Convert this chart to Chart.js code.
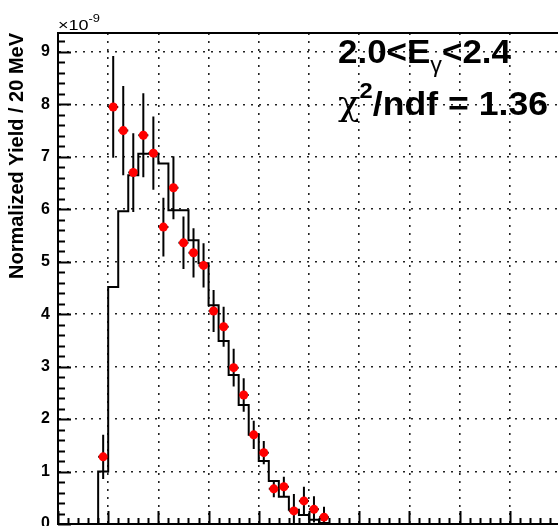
<!DOCTYPE html>
<html>
<head>
<meta charset="utf-8">
<script src="https://cdn.jsdelivr.net/npm/chart.js@4.4.1/dist/chart.umd.min.js"></script>
<style>
    html, body { margin: 0; padding: 0; background: #fff; overflow: hidden; }
    #wrap { position: absolute; left: 0; top: 0; width: 600px; height: 560px; }
</style>
</head>
<body>
<div id="wrap"><canvas id="yieldChart" width="600" height="560"></canvas></div>
<script>
// bin centres (MeV), one bin = 20 MeV
const binWidth = 20;
const binCenters = [90, 110, 130, 150, 170, 190, 210, 230, 250, 270, 290, 310,
                    330, 350, 370, 390, 410, 430, 450, 470, 490, 510, 530];
// data points (x 1e-9) and their errors
const dataYield = [1.28, 7.95, 7.50, 6.70, 7.41, 7.07, 5.66, 6.41, 5.36, 5.17, 4.93, 4.06,
                   3.76, 2.98, 2.46, 1.70, 1.36, 0.67, 0.71, 0.25, 0.44, 0.28, 0.13];
const dataErr = [0.42, 0.97, 0.85, 0.75, 0.80, 0.70, 0.56, 0.60, 0.50, 0.47, 0.42, 0.40,
                 0.38, 0.36, 0.32, 0.27, 0.22, 0.16, 0.19, 0.32, 0.27, 0.25, 0.20];
// simulation histogram, same bins
const mcYield = [1.00, 4.52, 5.96, 6.65, 7.06, 7.06, 6.87, 5.98, 5.98, 5.41, 4.97, 4.17,
                 3.49, 2.84, 2.27, 1.70, 1.20, 0.82, 0.52, 0.27, 0.17, 0.08, 0.02];
const yTicks = [0, 1, 2, 3, 4, 5, 6, 7, 8, 9];

const X_MAX = 1060;
const Y_MAX = 9.36;
const FONT = '"Liberation Sans", Arial, sans-serif';

// histogram as stepped line: left edge of each bin
const histPoints = [{ x: 0, y: 0 }];
binCenters.forEach(function(c, i) {
    histPoints.push({ x: c - binWidth / 2, y: mcYield[i] });
});
histPoints.push({ x: binCenters[binCenters.length - 1] + binWidth / 2, y: 0 });
histPoints.push({ x: X_MAX, y: 0 });

const dataPoints = binCenters.map(function(c, i) {
    return { x: c, y: dataYield[i] };
});

/**
 * error bars under the red markers
 */
const errorBars = {
    id: 'errorBars',
    beforeDatasetDraw(chart, args) {
        if (args.index !== 1) return;
        const ctx = chart.ctx;
        const x = chart.scales.x, y = chart.scales.y;
        ctx.save();
        ctx.strokeStyle = '#000';
        ctx.lineWidth = 2;
        binCenters.forEach(function(c, i) {
            const px = x.getPixelForValue(c);
            const py = y.getPixelForValue(dataYield[i]);
            ctx.beginPath();
            ctx.moveTo(px, y.getPixelForValue(dataYield[i] + dataErr[i]));
            ctx.lineTo(px, y.getPixelForValue(Math.max(0, dataYield[i] - dataErr[i])));
            ctx.moveTo(x.getPixelForValue(c - binWidth / 2), py);
            ctx.lineTo(x.getPixelForValue(c + binWidth / 2), py);
            ctx.stroke();
        });
        ctx.restore();
    }
};

// draws a run of text parts, squeezed/stretched to a given width
function drawRich(ctx, parts, x, baseline, width) {
    let total = 0;
    parts.forEach(function(p) {
        ctx.font = p.font;
        p.w = ctx.measureText(p.text).width;
        total += p.w;
    });
    ctx.save();
    ctx.translate(x, baseline);
    ctx.scale(width / total, 1);
    let cx = 0;
    parts.forEach(function(p) {
        ctx.font = p.font;
        ctx.fillText(p.text, cx, p.dy || 0);
        cx += p.w;
    });
    ctx.restore();
}

/**
 * frame, inward ticks and the labels inside the pad
 */
const frameAndText = {
    id: 'frameAndText',
    afterDraw(chart) {
        const ctx = chart.ctx;
        const area = chart.chartArea;
        const x = chart.scales.x, y = chart.scales.y;
        ctx.save();
        ctx.strokeStyle = '#000';
        ctx.lineWidth = 2;
        ctx.beginPath();
        ctx.moveTo(area.left, area.top);
        ctx.lineTo(area.right, area.top);
        // y ticks, pointing inside
        for (let v = 0; v <= Y_MAX + 1e-6; v += 0.2) {
            const major = Math.abs(v - Math.round(v)) < 1e-6;
            const py = Math.round(y.getPixelForValue(v)) + 0.5;
            ctx.moveTo(area.left, py);
            ctx.lineTo(area.left + (major ? 13 : 7), py);
        }
        // x ticks
        for (let v = 0; v <= X_MAX; v += binWidth) {
            const major = v % 100 === 0;
            const px = Math.round(x.getPixelForValue(v)) + 0.5;
            ctx.moveTo(px, area.bottom);
            ctx.lineTo(px, area.bottom - (major ? 13 : 6));
        }
        ctx.stroke();

        ctx.fillStyle = '#000';
        ctx.textBaseline = 'alphabetic';
        ctx.textAlign = 'left';
        drawRich(ctx, [
            { text: '\u00d710', font: '14px ' + FONT },
            { text: '-9', font: '10px ' + FONT, dy: -8 }
        ], 58, 30, 42);

        drawRich(ctx, [
            { text: '2.0<E', font: 'bold 33px ' + FONT },
            { text: '\u03b3', font: '22px ' + FONT, dy: 9 },
            { text: '<2.4', font: 'bold 33px ' + FONT }
        ], 338, 63, 173);

        drawRich(ctx, [
            { text: '\u03c7', font: '33px "DejaVu Serif", serif', dy: 0 },
            { text: '2', font: 'bold 22px ' + FONT, dy: -17 },
            { text: '/ndf = 1.36', font: 'bold 33px ' + FONT }
        ], 338, 115, 210);
        ctx.restore();
    }
};

new Chart(document.getElementById('yieldChart'), {
    type: 'line',
    data: {
        datasets: [{
            label: 'MC',
            data: histPoints,
            stepped: 'before',
            borderColor: '#000',
            borderWidth: 2,
            pointRadius: 0,
            fill: false,
            order: 2
        }, {
            label: 'Data',
            data: dataPoints,
            showLine: false,
            pointRadius: 4.5,
            pointBackgroundColor: '#ff0000',
            pointBorderWidth: 0,
            order: 1
        }]
    },
    options: {
        responsive: false,
        animation: false,
        devicePixelRatio: 1,
        layout: { padding: { top: 33, left: 0, right: 10, bottom: 0 } },
        plugins: {
            legend: { display: false },
            tooltip: { enabled: false }
        },
        scales: {
            x: {
                type: 'linear',
                min: 0,
                max: X_MAX,
                ticks: { display: false, stepSize: 100 },
                grid: { color: '#222', lineWidth: 1.6, drawTicks: false },
                border: { display: true, color: '#000', width: 2, dash: [2, 6] },
                afterFit: function(scale) { scale.height = 36; }
            },
            y: {
                type: 'linear',
                min: 0,
                max: Y_MAX,
                afterBuildTicks: function(scale) {
                    scale.ticks = yTicks.map(function(v) { return { value: v }; });
                },
                ticks: {
                    color: '#000',
                    padding: 8,
                    font: { family: FONT, size: 16, weight: 'bold' }
                },
                grid: { color: '#222', lineWidth: 1.6, drawTicks: false },
                border: { display: true, color: '#000', width: 2, dash: [2, 6] },
                title: {
                    display: true,
                    text: 'Normalized Yield / 20 MeV',
                    align: 'end',
                    color: '#000',
                    font: { family: FONT, size: 20, weight: 'bold' },
                    padding: { top: 5, bottom: 0 }
                },
                afterFit: function(scale) { scale.width = 58; }
            }
        }
    },
    plugins: [errorBars, frameAndText]
});
</script>
</body>
</html>
